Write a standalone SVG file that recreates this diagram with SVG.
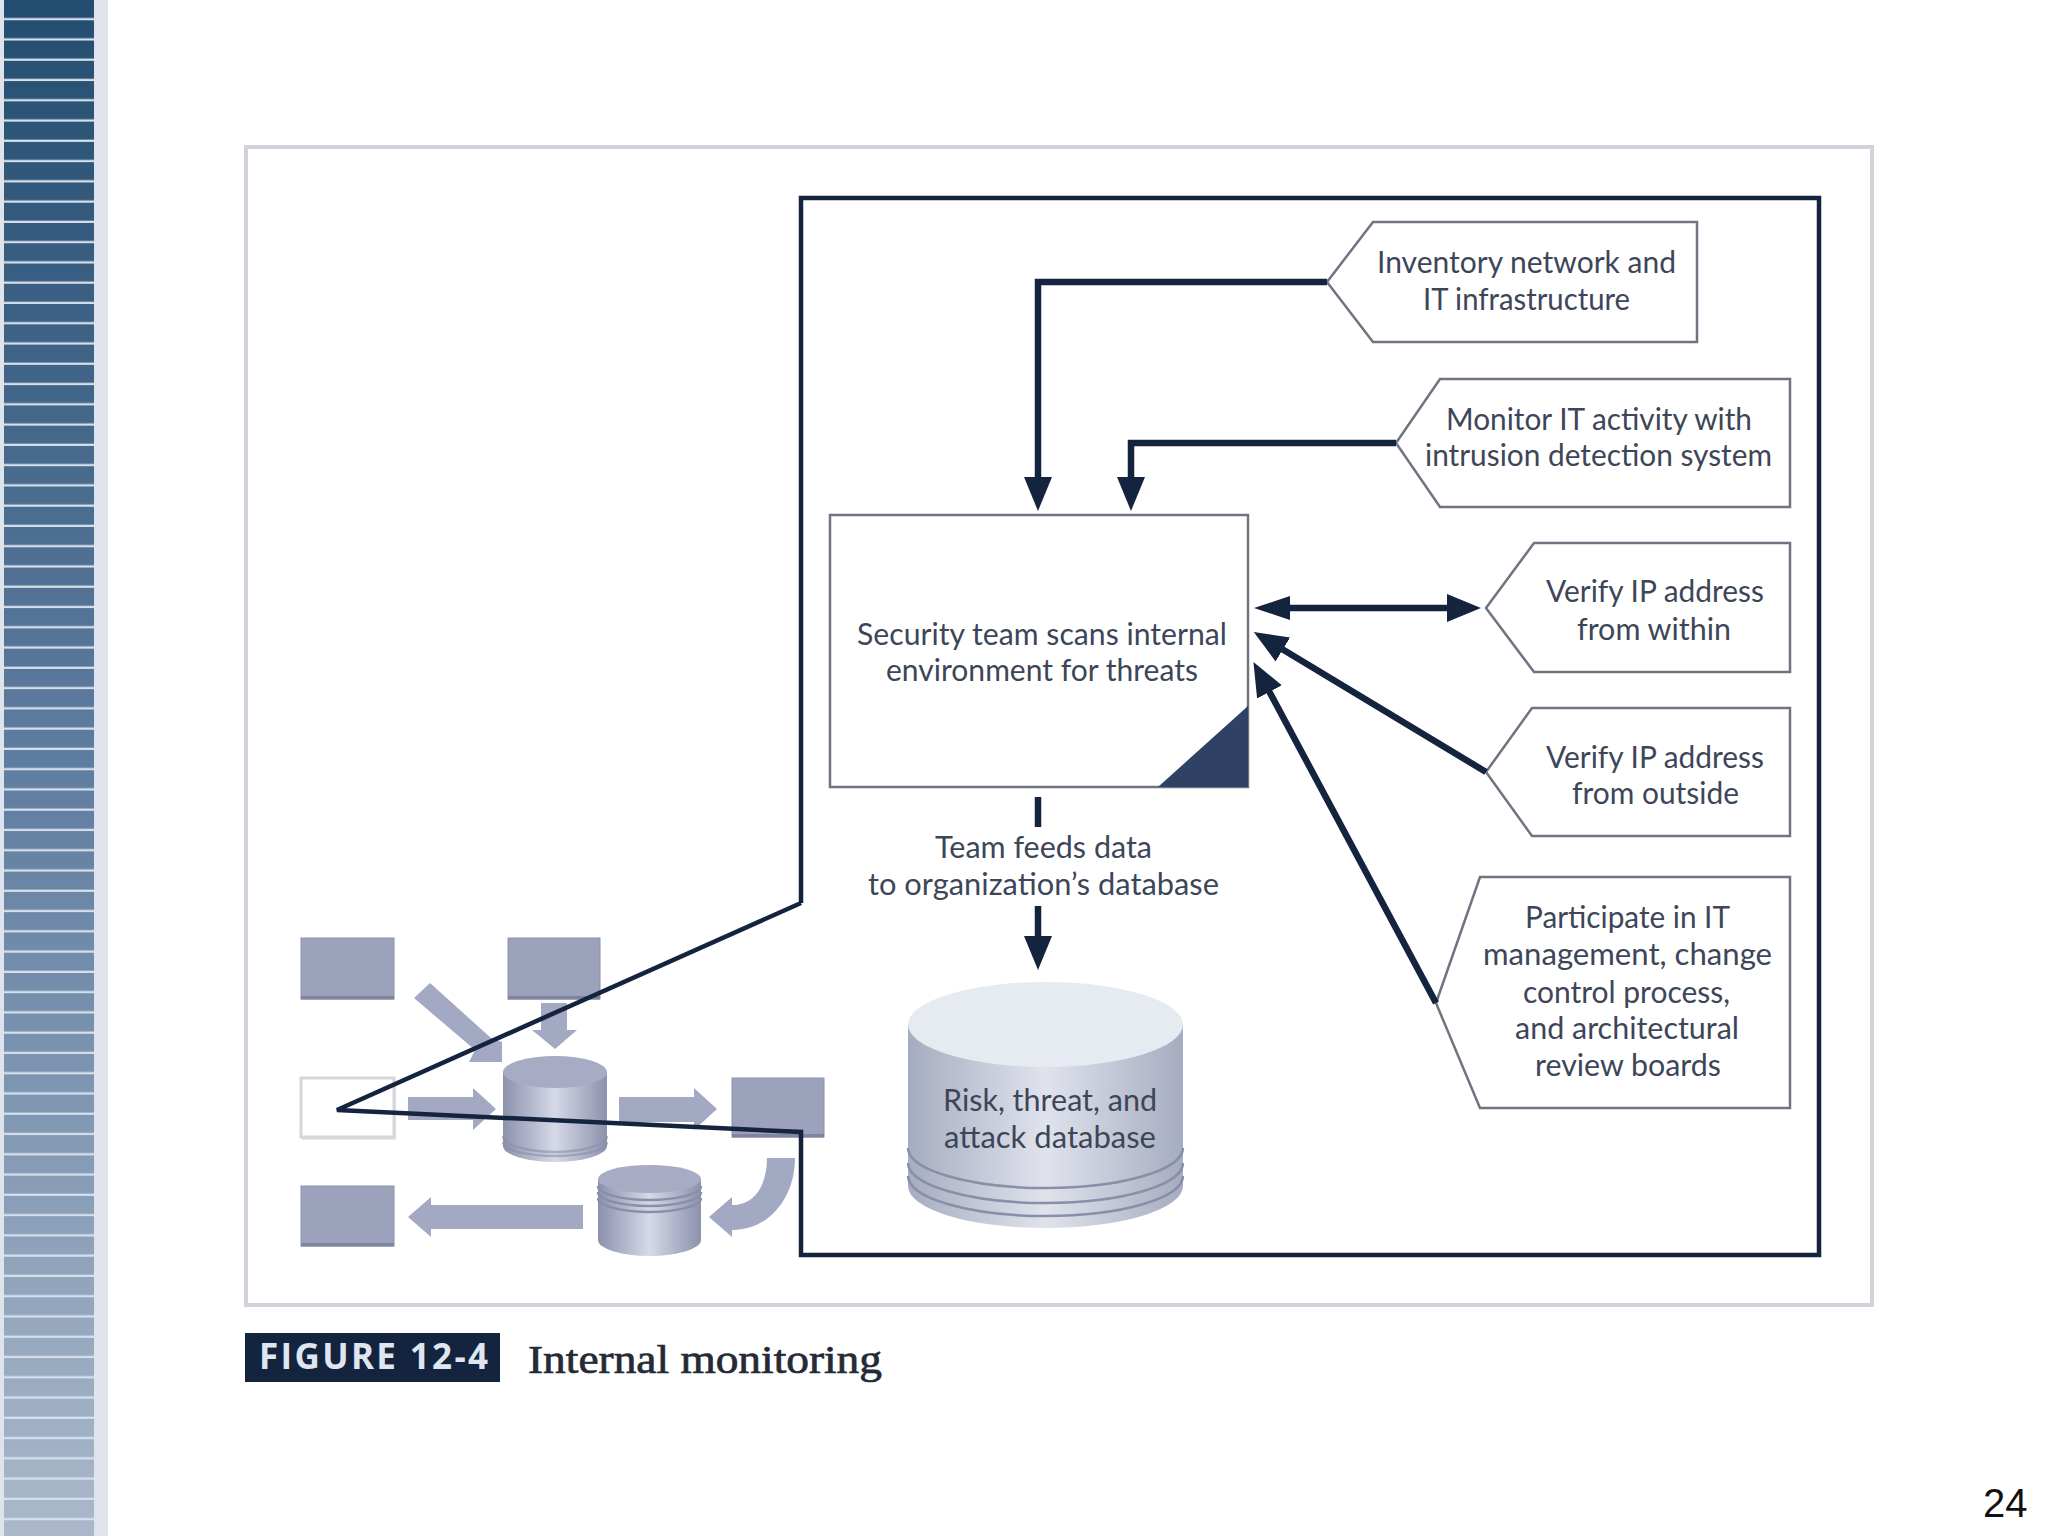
<svg xmlns="http://www.w3.org/2000/svg" width="2048" height="1536" viewBox="0 0 2048 1536">
<style>
.t{font-family:Lato,"Open Sans","Noto Sans",sans-serif;font-size:30px;fill:#3d4658}
.p{fill:#fff;stroke:#6f7480;stroke-width:2.5}
.c{fill:none;stroke:#14233e;stroke-width:6.5}
.g{fill:#a3a9c3}
.b{fill:#9ca1bc;stroke:#8d92ad;stroke-width:1}
.bs{fill:#7f849f}
.band{fill:none;stroke:#8a8fa8;stroke-width:2.5}
</style>
<defs>
<linearGradient id="side" x1="0" y1="0" x2="0" y2="1"><stop offset="0" stop-color="#234d70"/><stop offset=".5" stop-color="#5f7da0"/><stop offset="1" stop-color="#aab8ca"/></linearGradient>
<pattern id="gaps" width="90" height="20.27" patternUnits="userSpaceOnUse"><rect y="18" width="90" height="2.4" fill="#d6dfec"/></pattern>
<linearGradient id="cyl" x1="0" y1="0" x2="1" y2="0"><stop offset="0" stop-color="#8c91ad"/><stop offset=".5" stop-color="#d6d9e8"/><stop offset="1" stop-color="#8c91ad"/></linearGradient>
<linearGradient id="big" x1="0" y1="0" x2="1" y2="0"><stop offset="0" stop-color="#a6acc1"/><stop offset=".5" stop-color="#e0e3ec"/><stop offset="1" stop-color="#a6acc1"/></linearGradient>
<marker id="ah" markerUnits="userSpaceOnUse" markerWidth="36" markerHeight="30" refX="1" refY="15" orient="auto"><path d="M0,1 L34,15 L0,29 Z" fill="#14233e"/></marker>
<marker id="ahs" markerUnits="userSpaceOnUse" markerWidth="36" markerHeight="30" refX="35" refY="15" orient="auto"><path d="M36,3 L0,15 L36,27 Z" fill="#14233e"/></marker>
</defs>
<g id="sidebar">
<rect x="0" y="0" width="108" height="1536" fill="#dfe4ec"/>
<rect x="4" y="0" width="90" height="1536" fill="url(#side)"/>
<rect x="4" y="0" width="90" height="1536" fill="url(#gaps)"/>
</g>
<rect id="frame" x="246" y="147" width="1626" height="1158" fill="#fff" stroke="#d0d3da" stroke-width="4"/>

<g id="mini-box-1"><rect class="b" x="301" y="938" width="93" height="61"/><rect class="bs" x="301" y="996" width="93" height="3.500"/></g>
<g id="mini-box-2"><rect class="b" x="508" y="938" width="92" height="61"/><rect class="bs" x="508" y="996" width="92" height="3.500"/></g>
<g id="mini-box-3"><rect x="302" y="1080" width="94" height="60" fill="#e4e5e8"/><rect x="301" y="1078" width="93" height="59" fill="#fff" stroke="#d4d6da" stroke-width="3"/></g>
<g id="mini-box-4"><rect class="b" x="732" y="1078" width="92" height="59"/><rect class="bs" x="732" y="1134" width="92" height="3.500"/></g>
<g id="mini-box-5"><rect class="b" x="301" y="1186" width="93" height="60"/><rect class="bs" x="301" y="1243" width="93" height="3.500"/></g>
<g id="mini-arrows">
<polygon class="g" points="414,998 430,983 491,1038 502,1042 502,1062 469,1062 475,1050"/>
<polygon class="g" points="541,1003 567,1003 567,1030 577,1030 555,1049 532,1030 541,1030"/>
<polygon class="g" points="408,1097 473,1097 473,1088 496,1109 473,1130 473,1120 408,1120"/>
<polygon class="g" points="619,1097 694,1097 694,1088 717,1109 694,1130 694,1122 619,1122"/>
<polygon class="g" points="583,1205 431,1205 431,1197 408,1217 431,1237 431,1229 583,1229"/>
<path class="g" d="M767,1158 L795,1158 C795,1197 770,1230 732,1230 L732,1237 L709,1217 L732,1197 L732,1205 C755,1205 767,1185 767,1158Z"/>
</g>
<g id="mini-cylinder-1">
<path d="M503,1072 V1146 A52,16 0 0 0 607,1146 V1072 Z" fill="url(#cyl)"/>
<ellipse cx="555" cy="1072" rx="52" ry="16" fill="#a7abc3"/>
<path class="band" stroke-opacity=".6" d="M503,1136 A52,16 0 0 0 607,1136 M503,1142 A52,14 0 0 0 607,1142"/>
</g>
<g id="mini-cylinder-2">
<path d="M598,1179 V1240 A51.500,16 0 0 0 701,1240 V1179 Z" fill="url(#cyl)"/>
<path class="band" d="M598,1186 A51.500,14 0 0 0 701,1186 M598,1192 A51.500,14 0 0 0 701,1192 M598,1198 A51.500,14 0 0 0 701,1198"/>
<ellipse cx="649.500" cy="1179" rx="51.500" ry="14" fill="#a7abc3"/>
</g>

<g id="node-inventory"><polygon class="p" points="1327,282 1373,222 1697,222 1697,342 1373,342"/>
<text class="t" x="1377" y="273" textLength="299" lengthAdjust="spacingAndGlyphs">Inventory network and</text>
<text class="t" x="1423" y="310" textLength="207" lengthAdjust="spacingAndGlyphs">IT infrastructure</text></g>
<g id="node-monitor"><polygon class="p" points="1396,443 1440,379 1790,379 1790,507 1440,507"/>
<text class="t" x="1446" y="430" textLength="306" lengthAdjust="spacingAndGlyphs">Monitor IT activity with</text>
<text class="t" x="1425" y="466" textLength="347" lengthAdjust="spacingAndGlyphs">intrusion detection system</text></g>
<g id="node-verify-within"><polygon class="p" points="1486,608 1534,543 1790,543 1790,672 1534,672"/>
<text class="t" x="1546" y="602" textLength="218" lengthAdjust="spacingAndGlyphs">Verify IP address</text>
<text class="t" x="1577" y="640" textLength="154" lengthAdjust="spacingAndGlyphs">from within</text></g>
<g id="node-verify-outside"><polygon class="p" points="1486,772 1532,708 1790,708 1790,836 1532,836"/>
<text class="t" x="1546" y="768" textLength="218" lengthAdjust="spacingAndGlyphs">Verify IP address</text>
<text class="t" x="1572" y="804" textLength="167" lengthAdjust="spacingAndGlyphs">from outside</text></g>
<g id="node-participate"><polygon class="p" points="1436,1003 1480,877 1790,877 1790,1108 1480,1108"/>
<text class="t" x="1525" y="928" textLength="205" lengthAdjust="spacingAndGlyphs">Participate in IT</text>
<text class="t" x="1483" y="965" textLength="289" lengthAdjust="spacingAndGlyphs">management, change</text>
<text class="t" x="1523" y="1003" textLength="207" lengthAdjust="spacingAndGlyphs">control process,</text>
<text class="t" x="1515" y="1039" textLength="224" lengthAdjust="spacingAndGlyphs">and architectural</text>
<text class="t" x="1535" y="1076" textLength="186" lengthAdjust="spacingAndGlyphs">review boards</text></g>
<g id="node-security-team"><rect x="830" y="515" width="418" height="272" fill="#fff" stroke="#6f7480" stroke-width="2.500"/>
<polygon points="1158,787 1248,706 1248,787" fill="#2f4263"/>
<text class="t" x="857" y="645" textLength="370" lengthAdjust="spacingAndGlyphs">Security team scans internal</text>
<text class="t" x="886" y="681" textLength="312" lengthAdjust="spacingAndGlyphs">environment for threats</text></g>
<g id="node-database">
<path d="M908,1024 V1186 A137.500,42 0 0 0 1183,1186 V1024 Z" fill="url(#big)"/>
<ellipse cx="1045.500" cy="1024.500" rx="137.500" ry="42.500" fill="#e6eaf1"/>
<path class="band" d="M908,1148 A137.500,40 0 0 0 1183,1148 M908,1163 A137.500,40 0 0 0 1183,1163 M908,1176 A137.500,40 0 0 0 1183,1176"/>
<text class="t" x="943" y="1111" textLength="214" lengthAdjust="spacingAndGlyphs">Risk, threat, and</text>
<text class="t" x="944" y="1148" textLength="212" lengthAdjust="spacingAndGlyphs">attack database</text></g>
<g id="label-team-feeds">
<text class="t" x="935" y="858" textLength="217" lengthAdjust="spacingAndGlyphs">Team feeds data</text>
<text class="t" x="868" y="895" textLength="351" lengthAdjust="spacingAndGlyphs">to organization’s database</text></g>

<g id="connectors">
<path class="c" d="M801,903 V198 H1819 V1255 H801 V1132 L337,1110 L801,903" style="stroke-width:4.500px"/>
<path class="c" d="M1327,282 H1038 V478" marker-end="url(#ah)"/>
<path class="c" d="M1396,443 H1131 V478" marker-end="url(#ah)"/>
<path class="c" d="M1289,608 H1448" marker-end="url(#ah)" marker-start="url(#ahs)"/>
<path class="c" d="M1486,772 L1282,649" marker-end="url(#ah)"/>
<path class="c" d="M1436,1003 L1269,691" marker-end="url(#ah)"/>
<path class="c" d="M1038,797 V827"/>
<path class="c" d="M1038,906 V937" marker-end="url(#ah)"/>
</g>

<g id="caption">
<rect x="245" y="1333" width="255" height="49" fill="#14233e"/>
<text x="259" y="1369" textLength="229" lengthAdjust="spacing" style="font-family:'Open Sans','Noto Sans',sans-serif;font-weight:700;font-size:35px;fill:#dfe6ef">FIGURE 12-4</text>
<text x="528" y="1373" textLength="354" lengthAdjust="spacingAndGlyphs" style="font-family:'Liberation Serif',serif;font-size:39px;fill:#252a36;stroke:#252a36;stroke-width:.7px">Internal monitoring</text>
</g>
<text id="page-number" x="1983" y="1517" style="font-family:'Liberation Sans',Arial,sans-serif;font-size:40px;fill:#111">24</text>
</svg>
